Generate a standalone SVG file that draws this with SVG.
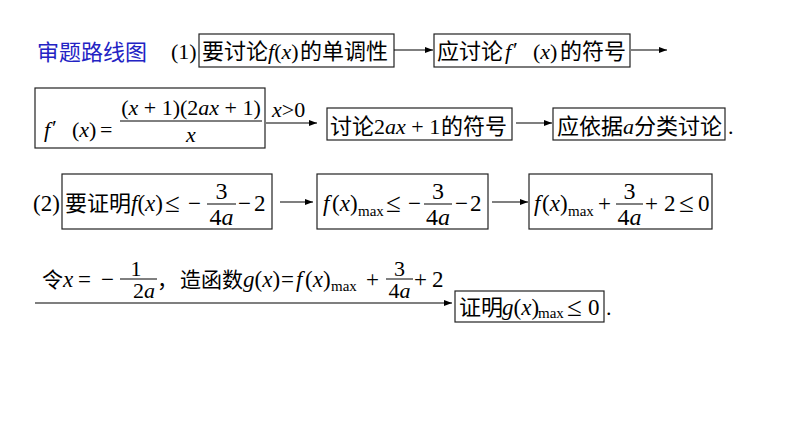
<svg xmlns="http://www.w3.org/2000/svg" width="794" height="447" viewBox="0 0 794 447">
<style>
.c{font-family:"Noto Sans CJK SC","Noto Sans",sans-serif;font-size:22px;fill:#000}
.c21{font-size:21px}
.m{font-family:"Liberation Serif","Noto Sans CJK SC",serif;font-size:22px;fill:#000}
.m23{font-size:23px}
.fr{font-size:24px}
.fr4{font-size:22px}
.le{font-size:27px}
.i{font-style:italic}
.s{font-size:15px}
.title{fill:#2323c4;font-size:22px}
.box{fill:none;stroke:#222;stroke-width:1.2}
.bar{stroke:#000;stroke-width:1}
.conn line.arr{stroke:#000;stroke-width:1.1;marker-end:url(#ah)}
</style>
<defs>
<marker id="ah" markerUnits="userSpaceOnUse" markerWidth="8" markerHeight="6" refX="8" refY="3" orient="auto">
<path d="M0,0 L8,3 L0,6 z" fill="#000"/>
</marker>
</defs>
<rect width="794" height="447" fill="#fff"/>

<text class="c title" x="37" y="60">审题路线图</text>
<text class="m" x="171" y="59">(1)</text>
<text class="m m23" x="33" y="211">(2)</text>

<g id="n1">
<rect class="box" x="199" y="34" width="195" height="33"/>
<text class="c" x="202" y="59">要讨论</text>
<text class="m" x="268" y="59"><tspan class="i">f</tspan>(<tspan class="i">x</tspan>)</text>
<text class="c" x="300" y="59">的单调性</text>
</g>

<g id="n2">
<rect class="box" x="434" y="34" width="196" height="33"/>
<text class="c" x="437" y="59">应讨论</text>
<text class="m i" x="505" y="59">f</text>
<text class="m" x="513" y="57">′</text>
<text class="m" x="533" y="59">(<tspan class="i">x</tspan>)</text>
<text class="c" x="560" y="59">的符号</text>
</g>

<g id="n3">
<rect class="box" x="35" y="88" width="230" height="60"/>
<text class="m i" x="44" y="137">f</text>
<text class="m" x="52" y="135">′</text>
<text class="m" x="72" y="137">(<tspan class="i">x</tspan>)</text>
<text class="m" x="100" y="137">=</text>
<line class="bar" x1="120" y1="121" x2="262" y2="121"/>
<text class="m" x="191" y="115" text-anchor="middle">(<tspan class="i">x</tspan> + 1)(2<tspan class="i">ax</tspan> + 1)</text>
<text class="m i" x="191" y="142" text-anchor="middle">x</text>
</g>

<g id="n4">
<rect class="box" x="327" y="108" width="185" height="32"/>
<text class="c" x="330" y="134">讨论</text>
<text class="m" x="374" y="134">2<tspan class="i">ax</tspan> + 1</text>
<text class="c" x="441" y="134">的符号</text>
</g>

<g id="n5">
<rect class="box" x="553" y="108" width="172" height="32"/>
<text class="c" x="557" y="134">应依据</text>
<text class="m i" x="623" y="134">a</text>
<text class="c" x="634" y="134">分类讨论</text>
</g>
<text class="m" x="728" y="134">.</text>

<g id="n6">
<rect class="box" x="62" y="174" width="210" height="55"/>
<text class="c" x="65" y="211">要证明</text>
<text class="m m23" x="131" y="211"><tspan class="i">f</tspan>(<tspan class="i">x</tspan>)</text>
<text class="m le" x="165" y="212">≤</text>
<text class="m m23" x="188" y="211">−</text>
<line class="bar" x1="207" y1="204" x2="236" y2="204"/>
<text class="m fr" x="221.5" y="199" text-anchor="middle">3</text>
<text class="m fr" x="221.5" y="225" text-anchor="middle">4<tspan class="i">a</tspan></text>
<text class="m m23" x="238" y="211">−</text>
<text class="m m23" x="254" y="211">2</text>
</g>

<g id="n7">
<rect class="box" x="317" y="174" width="171" height="55"/>
<text class="m m23 i" x="323" y="211">f</text>
<text class="m m23" x="332" y="211">(<tspan class="i">x</tspan>)</text>
<text class="m s" x="358" y="216">max</text>
<text class="m le" x="386" y="212">≤</text>
<text class="m m23" x="408" y="211">−</text>
<line class="bar" x1="424" y1="204" x2="452" y2="204"/>
<text class="m fr" x="438" y="199" text-anchor="middle">3</text>
<text class="m fr" x="438" y="225" text-anchor="middle">4<tspan class="i">a</tspan></text>
<text class="m m23" x="455" y="211">−</text>
<text class="m m23" x="470" y="211">2</text>
</g>

<g id="n8">
<rect class="box" x="529" y="174" width="183" height="55"/>
<text class="m m23 i" x="534" y="211">f</text>
<text class="m m23" x="542" y="211">(<tspan class="i">x</tspan>)</text>
<text class="m s" x="568" y="216">max</text>
<text class="m m23" x="598" y="211">+</text>
<line class="bar" x1="616" y1="204" x2="643" y2="204"/>
<text class="m fr" x="629.5" y="199" text-anchor="middle">3</text>
<text class="m fr" x="629.5" y="225" text-anchor="middle">4<tspan class="i">a</tspan></text>
<text class="m m23" x="645" y="211">+</text>
<text class="m m23" x="664" y="211">2</text>
<text class="m le" x="679" y="212">≤</text>
<text class="m m23" x="698" y="211">0</text>
</g>

<g id="n9">
<rect class="box" x="455" y="291" width="149" height="31"/>
<text class="c" x="459" y="315">证明</text>
<text class="m m23" x="502" y="315"><tspan class="i">g</tspan>(<tspan class="i">x</tspan>)</text>
<text class="m s" x="538" y="318">max</text>
<text class="m le" x="567" y="316">≤</text>
<text class="m m23" x="588" y="315">0</text>
</g>
<text class="m" x="606" y="315">.</text>

<g id="connectors" class="conn">
<line class="arr" x1="394" y1="50" x2="433" y2="50"/>
<line class="arr" x1="631" y1="50" x2="667" y2="50"/>
<line class="arr" x1="266" y1="123" x2="317" y2="123"/>
<line class="arr" x1="516" y1="123" x2="552" y2="123"/>
<line class="arr" x1="280" y1="202" x2="313" y2="202"/>
<line class="arr" x1="492" y1="202" x2="528" y2="202"/>
<line class="arr" x1="35" y1="303" x2="452" y2="303"/>
<g id="label-x0">
<text class="m" x="272" y="117"><tspan class="i">x</tspan>&gt;0</text>
</g>
<g id="label-g">
<text class="c c21" x="42" y="287">令</text>
<text class="m m23 i" x="63" y="287">x</text>
<text class="m m23" x="78" y="287">=</text>
<text class="m m23" x="101" y="287">−</text>
<line class="bar" x1="120" y1="279" x2="157" y2="279"/>
<text class="m fr4" x="136" y="276" text-anchor="middle">1</text>
<text class="m fr4" x="144" y="298" text-anchor="middle">2<tspan class="i">a</tspan></text>
<text class="c c21" x="157" y="287">，</text>
<text class="c c21" x="180" y="287">造函数</text>
<text class="m m23" x="243" y="287"><tspan class="i">g</tspan>(<tspan class="i">x</tspan>)</text>
<text class="m m23" x="281" y="287">=</text>
<text class="m m23 i" x="296" y="287">f</text>
<text class="m m23" x="305" y="287">(<tspan class="i">x</tspan>)</text>
<text class="m s" x="331" y="291">max</text>
<text class="m m23" x="366" y="287">+</text>
<line class="bar" x1="386" y1="279" x2="413" y2="279"/>
<text class="m fr4" x="399.5" y="276" text-anchor="middle">3</text>
<text class="m fr4" x="399.5" y="298" text-anchor="middle">4<tspan class="i">a</tspan></text>
<text class="m m23" x="414" y="287">+</text>
<text class="m m23" x="432" y="287">2</text>
</g>
</g>
</svg>
